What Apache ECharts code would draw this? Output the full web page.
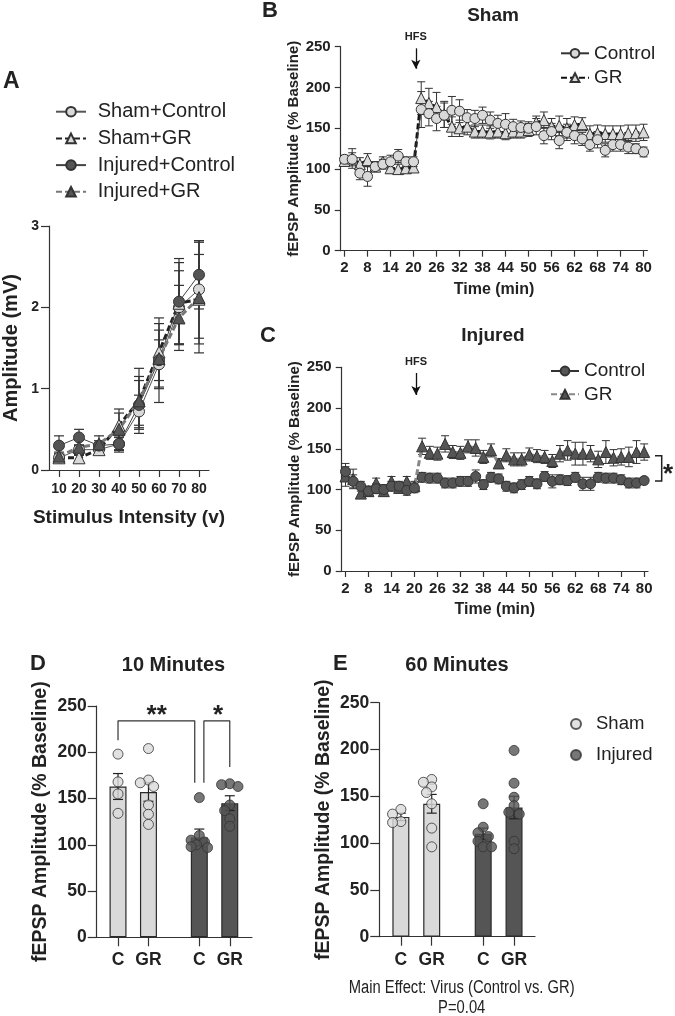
<!DOCTYPE html>
<html><head><meta charset="utf-8">
<script src="https://cdn.jsdelivr.net/npm/echarts@6/dist/echarts.min.js"></script>
<style>html,body{margin:0;padding:0;background:#fff}#c{width:675px;height:1016px}</style>
</head><body><div id="c"></div>
<script>
const FONT = '"Liberation Sans", Arial, Helvetica, sans-serif';
const INK = '#222';
const LIGHT = '#d9d9d9';
const DARK = '#555555';

// ---------- Panel A ----------
const stimulus     = [10, 20, 30, 40, 50, 60, 70, 80];
const aShamCtrl    = [0.15, 0.25, 0.25, 0.32, 0.72, 1.30, 2.00, 2.22];
const aShamCtrlSem = [0.05, 0.06, 0.05, 0.08, 0.20, 0.30, 0.45, 0.60];
const aShamGR      = [0.15, 0.15, 0.25, 0.55, 0.85, 1.45, 2.05, 2.10];
const aShamGRSem   = [0.04, 0.05, 0.05, 0.15, 0.30, 0.35, 0.50, 0.55];
const aInjCtrl     = [0.30, 0.40, 0.30, 0.32, 0.80, 1.35, 2.07, 2.40];
const aInjCtrlSem  = [0.12, 0.10, 0.06, 0.10, 0.30, 0.52, 0.53, 0.42];
const aInjGR       = [0.17, 0.28, 0.32, 0.50, 0.85, 1.37, 1.87, 2.12];
const aInjGRSem    = [0.05, 0.10, 0.10, 0.25, 0.40, 0.35, 0.40, 0.68];

// ---------- Panels B & C (time course) ----------
const timeMin  = [2,4,6,8,10,12,14,16,18,20,22,24,26,28,30,32,34,36,38,40,42,44,46,48,50,52,54,56,58,60,62,64,66,68,70,72,74,76,78,80];
const timeTicks = [2,8,14,20,26,32,38,44,50,56,62,68,74,80];
const bCtrl    = [112,112,95,91,103,106,109,116,109,109,173,168,162,166,172,171,163,162,166,160,156,155,152,151,150,152,141,146,135,145,141,137,130,136,123,130,130,127,125,121];
const bCtrlSem = [5,8,8,12,6,6,8,8,6,6,22,15,15,15,17,14,10,10,10,10,10,13,9,8,8,10,10,10,10,10,10,8,8,10,8,8,8,8,6,6];
const bGR      = [110,113,106,111,103,109,101,100,101,102,187,181,176,167,152,150,152,146,146,145,146,144,146,146,148,157,160,152,153,150,154,155,143,144,143,143,143,144,144,145];
const bGRSem   = [6,12,8,8,6,6,6,6,6,6,20,18,18,16,12,10,10,8,8,8,8,8,8,8,8,8,10,10,12,12,10,8,10,10,10,10,10,10,10,10];
const cCtrl    = [122,110,104,98,101,100,104,104,99,102,115,114,114,108,108,110,110,116,106,115,113,104,102,106,110,107,116,110,112,111,115,107,107,115,114,114,112,108,108,111];
const cCtrlSem = [10,8,6,6,6,6,6,6,6,6,6,6,6,6,6,6,6,8,6,6,6,6,6,6,6,6,6,8,6,6,6,8,8,6,6,6,6,6,6,4];
const cGR      = [116,113,95,98,108,98,110,102,110,104,153,145,144,156,146,145,153,151,140,148,132,142,137,137,143,141,140,135,144,148,144,144,144,137,146,139,140,140,146,146];
const cGRSem   = [12,12,6,6,6,6,6,6,6,6,10,8,8,10,8,8,8,10,8,8,6,8,8,8,8,8,8,8,10,12,14,14,10,10,14,10,10,12,14,10];
const hfsTime = 20.6;

// ---------- Panels D & E (bar + dots) ----------
const barLabels = ['C', 'GR', 'C', 'GR'];
const dMeans = [163, 157, 108, 145];
const dSem   = [14, 10, 9, 8];
const dShamC  = [198, 168, 155, 134];
const dShamGR = [204, 170, 167, 163, 143, 133, 122];
const dInjC   = [151, 110, 105, 103, 100, 98, 97];
const dInjGR  = [166, 165, 163, 143, 137, 128, 120];
const eMeans = [128, 142, 110, 138];
const eSem   = [4, 10, 6, 12];
const eShamC  = [136, 131, 123, 122];
const eShamGR = [168, 165, 160, 154, 142, 116, 96];
const eInjC   = [142, 117, 111, 107, 102, 96, 96];
const eInjGR  = [199, 164, 149, 140, 133, 131, 102, 94];

// ---------- helpers ----------
const pos = i => i + 1 + (i >= 2 ? 0.67 : 0);   // bar slot positions with a gap between groups
const barPos = barLabels.map((_, i) => pos(i));

function errSeries(xi, yi, xs, m, e, capHalf, color, w, z) {
  return {
    type: 'custom', xAxisIndex: xi, yAxisIndex: yi, z: z, silent: true,
    data: xs.map((x, i) => [x, m[i] - e[i], m[i] + e[i]]),
    encode: { x: 0, y: [1, 2] },
    renderItem: function (params, api) {
      const lo = api.coord([api.value(0), api.value(1)]);
      const hi = api.coord([api.value(0), api.value(2)]);
      const st = { stroke: color, lineWidth: w };
      return { type: 'group', children: [
        { type: 'line', shape: { x1: lo[0], y1: lo[1], x2: hi[0], y2: hi[1] }, style: st },
        { type: 'line', shape: { x1: hi[0] - capHalf, y1: hi[1], x2: hi[0] + capHalf, y2: hi[1] }, style: st },
        { type: 'line', shape: { x1: lo[0] - capHalf, y1: lo[1], x2: lo[0] + capHalf, y2: lo[1] }, style: st }
      ] };
    }
  };
}

function lineSeries(name, xi, yi, xs, ys, symbol, size, fill, border, lineColor, lineW, dashed, z) {
  return {
    type: 'line', name: name, xAxisIndex: xi, yAxisIndex: yi, z: z,
    data: xs.map((x, i) => [x, ys[i]]),
    symbol: symbol, symbolSize: size, showAllSymbol: true,
    itemStyle: { color: fill, borderColor: border, borderWidth: 1 },
    lineStyle: { color: lineColor, width: lineW, type: dashed ? [6, 3] : 'solid' },
    emphasis: { disabled: true }, animation: false
  };
}

function swarm(vals, center, pxX, pxY, minDist) {
  const placed = [];
  const cands = [0, -0.17, 0.17, -0.27, 0.27, -0.09, 0.09];
  return vals.map(v => {
    let best = 0, bestD = -1;
    for (const c of cands) {
      let d = Infinity;
      for (const p of placed) d = Math.min(d, Math.hypot((c - p[0]) * pxX, (v - p[1]) * pxY));
      if (d >= minDist) { best = c; break; }
      if (d > bestD) { bestD = d; best = c; }
    }
    placed.push([best, v]);
    return [center + best, v];
  });
}

const axisLineStyle = { color: '#333', width: 1.2 };
function valAxisY(gi, fs, tickLen, margin, name, nameFs, nameGap, max, interval) {
  return {
    type: 'value', gridIndex: gi, min: 0, max: max, interval: interval,
    axisLine: { show: true, lineStyle: axisLineStyle },
    axisTick: { show: true, length: tickLen, lineStyle: axisLineStyle },
    splitLine: { show: false },
    axisLabel: { fontFamily: FONT, fontWeight: 'bold', fontSize: fs, color: INK, margin: margin },
    name: name, nameLocation: 'middle', nameGap: nameGap,
    nameTextStyle: { fontFamily: FONT, fontWeight: 'bold', fontSize: nameFs, color: INK }
  };
}

// ---------- axes ----------
const xAxes = [
  { type: 'value', gridIndex: 0, min: 5, max: 85,
    axisLine: { show: true, lineStyle: axisLineStyle },
    axisTick: { show: true, length: 7, lineStyle: axisLineStyle, customValues: stimulus },
    axisLabel: { fontFamily: FONT, fontWeight: 'bold', fontSize: 14, color: INK, margin: 12, customValues: stimulus },
    splitLine: { show: false },
    name: 'Stimulus Intensity (v)', nameLocation: 'middle', nameGap: 38,
    nameTextStyle: { fontFamily: FONT, fontWeight: 'bold', fontSize: 19, color: INK } },
  { type: 'value', gridIndex: 1, min: 1, max: 81,
    axisLine: { show: true, lineStyle: axisLineStyle },
    axisTick: { show: true, length: 6, lineStyle: axisLineStyle, customValues: timeTicks },
    axisLabel: { fontFamily: FONT, fontWeight: 'bold', fontSize: 15, color: INK, margin: 10, customValues: timeTicks },
    splitLine: { show: false },
    name: 'Time (min)', nameLocation: 'middle', nameGap: 31,
    nameTextStyle: { fontFamily: FONT, fontWeight: 'bold', fontSize: 16, color: INK } },
  { type: 'value', gridIndex: 2, min: 1, max: 81,
    axisLine: { show: true, lineStyle: axisLineStyle },
    axisTick: { show: true, length: 6, lineStyle: axisLineStyle, customValues: timeTicks },
    axisLabel: { fontFamily: FONT, fontWeight: 'bold', fontSize: 15, color: INK, margin: 10, customValues: timeTicks },
    splitLine: { show: false },
    name: 'Time (min)', nameLocation: 'middle', nameGap: 31,
    nameTextStyle: { fontFamily: FONT, fontWeight: 'bold', fontSize: 16, color: INK } },
  { type: 'value', gridIndex: 3, min: 0.3, max: 5.4,
    axisLine: { show: true, lineStyle: axisLineStyle },
    axisTick: { show: true, length: 9, lineStyle: axisLineStyle, customValues: barPos },
    axisLabel: { fontFamily: FONT, fontWeight: 'bold', fontSize: 17.5, color: INK, margin: 14, customValues: barPos,
      formatter: v => barLabels[barPos.findIndex(p => Math.abs(p - v) < 0.01)] || '' },
    splitLine: { show: false } },
  { type: 'value', gridIndex: 4, min: 0.3, max: 5.35,
    axisLine: { show: true, lineStyle: axisLineStyle },
    axisTick: { show: true, length: 9, lineStyle: axisLineStyle, customValues: barPos },
    axisLabel: { fontFamily: FONT, fontWeight: 'bold', fontSize: 17.5, color: INK, margin: 14, customValues: barPos,
      formatter: v => barLabels[barPos.findIndex(p => Math.abs(p - v) < 0.01)] || '' },
    splitLine: { show: false } }
];
const yAxes = [
  valAxisY(0, 14, 8, 10, 'Amplitude (mV)', 20, 28, 3, 1),
  valAxisY(1, 15, 6, 10, 'fEPSP Amplitude (% Baseline)', 15, 37, 250, 50),
  valAxisY(2, 15, 6, 10, 'fEPSP Amplitude (% Baseline)', 15, 37, 250, 50),
  valAxisY(3, 17.5, 9, 10, 'fEPSP Amplitude (% Baseline)', 19.5, 46, 250, 50),
  valAxisY(4, 17.5, 9, 10, 'fEPSP Amplitude (% Baseline)', 19.5, 46, 250, 50)
];

// ---------- series ----------
const series = [];
// A
series.push(errSeries(0, 0, stimulus, aShamCtrl, aShamCtrlSem, 5, '#333', 1.2, 2));
series.push(errSeries(0, 0, stimulus, aShamGR, aShamGRSem, 5, '#333', 1.2, 2));
series.push(errSeries(0, 0, stimulus, aInjCtrl, aInjCtrlSem, 5, '#333', 1.2, 2));
series.push(errSeries(0, 0, stimulus, aInjGR, aInjGRSem, 5, '#333', 1.2, 2));
series.push(lineSeries('Sham+Control', 0, 0, stimulus, aShamCtrl, 'circle', 11, LIGHT, '#333', '#555', 1, false, 5));
series.push(lineSeries('Sham+GR', 0, 0, stimulus, aShamGR, 'triangle', 12, LIGHT, '#333', '#222', 3, true, 5));
series.push(lineSeries('Injured+Control', 0, 0, stimulus, aInjCtrl, 'circle', 11, DARK, '#333', '#444', 1, false, 5));
series.push(lineSeries('Injured+GR', 0, 0, stimulus, aInjGR, 'triangle', 12, DARK, '#333', '#777', 3, true, 5));

// B
series.push(errSeries(1, 1, timeMin, bCtrl, bCtrlSem, 4, '#333', 1, 2));
series.push(errSeries(1, 1, timeMin, bGR, bGRSem, 4, '#333', 1, 2));
const bCtrlS = lineSeries('Control', 1, 1, timeMin, bCtrl, 'circle', 10, LIGHT, '#333', '#333', 1, false, 5);
const bGRS = lineSeries('GR', 1, 1, timeMin, bGR, 'triangle', 11, LIGHT, '#333', '#111', 3, true, 4);
bGRS.markLine = { silent: true, symbol: ['none', 'arrow'], symbolSize: [7, 9], animation: false,
  lineStyle: { color: '#111', width: 1.3, type: 'solid' },
  label: { show: true, position: 'start', formatter: 'HFS', fontFamily: FONT, fontWeight: 'bold', fontSize: 11, color: INK, distance: 6 },
  data: [[{ coord: [hfsTime, 248] }, { coord: [hfsTime, 223] }]] };
series.push(bGRS, bCtrlS);

// C
series.push(errSeries(2, 2, timeMin, cCtrl, cCtrlSem, 4, '#333', 1, 2));
series.push(errSeries(2, 2, timeMin, cGR, cGRSem, 4, '#333', 1, 2));
const cCtrlS = lineSeries('Control ', 2, 2, timeMin, cCtrl, 'circle', 10, DARK, '#333', '#333', 1, false, 5);
const cGRS = lineSeries('GR ', 2, 2, timeMin, cGR, 'triangle', 11, DARK, '#333', '#888', 3, true, 4);
cGRS.markLine = { silent: true, symbol: ['none', 'arrow'], symbolSize: [7, 9], animation: false,
  lineStyle: { color: '#111', width: 1.3, type: 'solid' },
  label: { show: true, position: 'start', formatter: 'HFS', fontFamily: FONT, fontWeight: 'bold', fontSize: 11, color: INK, distance: 6 },
  data: [[{ coord: [hfsTime - 0.2, 243] }, { coord: [hfsTime - 0.2, 216] }]] };
series.push(cGRS, cCtrlS);

// D & E bars
function barBlock(gi, means, sems, groups, dotName1, dotName2, pxY) {
  const fills = [LIGHT, LIGHT, DARK, DARK];
  series.push({ type: 'bar', xAxisIndex: gi, yAxisIndex: gi, barWidth: 17, z: 2, silent: true, animation: false,
    data: means.map((m, i) => ({ value: [barPos[i], m], itemStyle: { color: fills[i], borderColor: '#2a2a2a', borderWidth: 1.2 } })) });
  series.push(errSeries(gi, gi, barPos, means, sems, 5, '#222', 1.2, 3));
  const md = 7;
  const shamPts = [].concat(swarm(groups[0], barPos[0], 30.5, pxY, md), swarm(groups[1], barPos[1], 30.5, pxY, md));
  const injPts = [].concat(swarm(groups[2], barPos[2], 30.5, pxY, md), swarm(groups[3], barPos[3], 30.5, pxY, md));
  series.push({ type: 'scatter', name: dotName1, xAxisIndex: gi, yAxisIndex: gi, z: 4, symbolSize: 10, animation: false,
    itemStyle: { color: LIGHT, borderColor: '#333', borderWidth: 1 }, data: shamPts });
  series.push({ type: 'scatter', name: dotName2, xAxisIndex: gi, yAxisIndex: gi, z: 4, symbolSize: 10, animation: false,
    itemStyle: { color: DARK, borderColor: '#333', borderWidth: 1 }, data: injPts });
}
barBlock(3, dMeans, dSem, [dShamC, dShamGR, dInjC, dInjGR], 'Sham (10 min)', 'Injured (10 min)', 0.925);
barBlock(4, eMeans, eSem, [eShamC, eShamGR, eInjC, eInjGR], 'Sham', 'Injured', 0.936);

// significance brackets in D (data units)
const bracketStyle = { color: '#333', width: 1.2 };
const sigBracket1 = [[barPos[0], 213], [barPos[0], 234], [barPos[2] - 0.15, 234], [barPos[2] - 0.15, 167]];
const sigBracket2 = [[barPos[2] + 0.15, 167], [barPos[2] + 0.15, 234], [barPos[3], 234], [barPos[3], 184]];
[sigBracket1, sigBracket2].forEach(b => series.push({ type: 'line', xAxisIndex: 3, yAxisIndex: 3, data: b,
  symbol: 'none', lineStyle: bracketStyle, z: 6, silent: true, animation: false }));

// ---------- text & annotations ----------
function txt(text, x, y, size, weight, align, valign, extra) {
  return Object.assign({ type: 'text', x: x, y: y, silent: true,
    style: { text: text, font: (weight || 'normal') + ' ' + size + 'px ' + FONT, fill: INK,
      align: align, verticalAlign: valign, textAlign: align, textVerticalAlign: valign } }, extra || {});
}
const graphics = [
  txt('A', 3, 82, 23, 'bold', 'left', 'middle'),
  txt('B', 262, 11, 22, 'bold', 'left', 'middle'),
  txt('C', 260, 336, 22, 'bold', 'left', 'middle'),
  txt('D', 30, 664, 22, 'bold', 'left', 'middle'),
  txt('E', 333, 664, 22, 'bold', 'left', 'middle'),
  txt('Sham', 493, 16, 19, 'bold', 'center', 'middle'),
  txt('Injured', 493, 336, 19, 'bold', 'center', 'middle'),
  txt('10 Minutes', 173.5, 665, 20, 'bold', 'center', 'middle'),
  txt('60 Minutes', 457, 665, 20, 'bold', 'center', 'middle'),
  txt('**', 156.7, 716, 26, 'bold', 'center', 'middle'),
  txt('*', 218, 716, 26, 'bold', 'center', 'middle'),
  txt('*', 668, 475, 26, 'bold', 'center', 'middle'),
  { type: 'polyline', silent: true, shape: { points: [[655, 455.7], [661.7, 455.7], [661.7, 481], [655, 481]] },
    style: { stroke: '#222', lineWidth: 1.5, fill: null } },
  txt('Main Effect: Virus (Control vs. GR)', 461.7, 988, 18, 'normal', 'center', 'middle', { scaleX: 0.82, originX: 0, originY: 0 }),
  txt('P=0.04', 461.7, 1008, 18, 'normal', 'center', 'middle', { scaleX: 0.82, originX: 0, originY: 0 })
];

const legendText = (fs, padLeft) => ({ fontFamily: FONT, fontSize: fs, color: INK, lineHeight: fs, padding: [0, 0, 0, padLeft] });

const option = {
  backgroundColor: '#fff',
  animation: false,
  grid: [
    { left: 46.7, top: 226, width: 162.3, height: 244 },
    { left: 340.7, top: 46.7, width: 306.7, height: 204 },
    { left: 341.7, top: 367.3, width: 306.3, height: 203.7 },
    { left: 96.7, top: 706, width: 155.3, height: 231.3 },
    { left: 379.3, top: 702.7, width: 155.7, height: 234 }
  ],
  xAxis: xAxes,
  yAxis: yAxes,
  legend: [
    { data: ['Sham+Control', 'Sham+GR', 'Injured+Control', 'Injured+GR'], orient: 'vertical', left: 50, top: 96.7,
      itemWidth: 30, itemHeight: 12, itemGap: 6.7, textStyle: legendText(20, 6.7), selectedMode: false },
    { data: ['Control', 'GR'], orient: 'vertical', left: 555, top: 38.8,
      itemWidth: 28, itemHeight: 11, itemGap: 5.4, textStyle: legendText(19, 0), selectedMode: false },
    { data: ['Control ', 'GR '], orient: 'vertical', left: 545, top: 356.5,
      itemWidth: 28, itemHeight: 11, itemGap: 4.3, textStyle: legendText(19, 0), selectedMode: false },
    { data: ['Sham', 'Injured'], orient: 'vertical', left: 565, top: 709.5, icon: 'circle',
      itemWidth: 10, itemHeight: 10, itemGap: 12, textStyle: legendText(18.5, 10), selectedMode: false }
  ],
  graphic: graphics,
  series: series
};

const chart = echarts.init(document.getElementById('c'), null, { renderer: 'canvas' });
chart.setOption(option);
</script>
</body></html>
